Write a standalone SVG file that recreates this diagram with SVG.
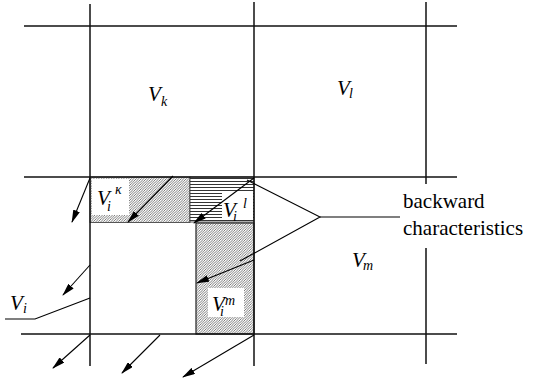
<svg xmlns="http://www.w3.org/2000/svg" width="535" height="383" viewBox="0 0 535 383">
<style>
.g{stroke:#111;stroke-width:1.5;fill:none}
.c{stroke:#000;stroke-width:1.1;fill:none}
.a{stroke:#000;stroke-width:1.1;fill:none;marker-end:url(#ah)}
.V{font-style:italic;font-size:21px;fill:#000}
.s{font-size:14px}
.t{font-size:21px;fill:#000}
.box{fill:#fff;stroke:none}
</style>
<defs>
<pattern id="dh" width="2.5" height="2.5" patternUnits="userSpaceOnUse">
<rect width="2.5" height="2.5" fill="#fff"/>
<path d="M-1,1 L1,-1 M0,2.5 L2.5,0 M1.5,3.5 L3.5,1.5" stroke="#444" stroke-width="0.7"/>
</pattern>
<pattern id="hh" width="3" height="3" patternUnits="userSpaceOnUse">
<rect width="3" height="3" fill="#fff"/>
<path d="M0,1.5 L3,1.5" stroke="#000" stroke-width="0.8"/>
</pattern>
<marker id="ah" markerWidth="13" markerHeight="7" refX="12" refY="3.5" orient="auto" markerUnits="userSpaceOnUse">
<path d="M0,0 L13,3.5 L0,7 z" fill="#000"/>
</marker>
</defs>
<g id="regions">
<rect id="Vik" x="90" y="177" width="100" height="45.5" fill="url(#dh)" stroke="#333" stroke-width="0.8"/>
<rect id="Vil" x="190" y="177" width="64" height="45" fill="url(#hh)" stroke="#333" stroke-width="0.8"/>
<rect id="Vim" x="196" y="223" width="58" height="111" fill="url(#dh)" stroke="#222" stroke-width="1.2"/>
<rect class="box" x="92" y="179" width="37" height="36"/>
<rect class="box" x="222" y="193" width="31" height="27"/>
<rect class="box" x="208" y="288" width="36" height="29"/>
</g>
<g id="grid">
<line class="g" x1="24" y1="26" x2="457" y2="26"/>
<line class="g" x1="24" y1="177" x2="457" y2="177"/>
<line class="g" x1="21" y1="334" x2="457" y2="334"/>
<line class="g" x1="90" y1="4" x2="90" y2="366"/>
<line class="g" x1="254" y1="2" x2="254" y2="366"/>
<line class="g" x1="426" y1="2" x2="426" y2="184"/>
<line class="g" x1="426" y1="248" x2="426" y2="364"/>
</g>
<g id="connectors">
<line class="a" x1="90" y1="178" x2="72" y2="222"/>
<line class="a" x1="173" y1="176" x2="128" y2="222"/>
<line class="a" x1="254" y1="178" x2="194" y2="223"/>
<line class="a" x1="254" y1="260" x2="197" y2="283"/>
<line class="a" x1="90" y1="265" x2="63" y2="295"/>
<line class="a" x1="90" y1="335" x2="53" y2="368"/>
<line class="a" x1="160" y1="335" x2="122" y2="373"/>
<line class="a" x1="254" y1="335" x2="183" y2="377"/>
<polyline class="c" points="247,180 320,217 240,261"/>
<line class="c" x1="320" y1="217" x2="400" y2="217"/>
<polyline class="c" points="5,319 35,319 90,298"/>
</g>
<g id="labels" font-family="Liberation Serif, Times New Roman, Times, DejaVu Serif, serif">
<text id="Vk" class="V" x="148" y="101">V<tspan class="s" x="161" y="106">k</tspan></text>
<text id="Vl" class="V" x="337" y="95">V<tspan class="s" x="349" y="98">l</tspan></text>
<text id="Vm" class="V" x="352" y="267">V<tspan class="s" x="363" y="270">m</tspan></text>
<text id="Vi" class="V" x="10" y="310">V<tspan class="s" x="23" y="313">i</tspan></text>
<text id="Vik-label" class="V" x="97" y="205">V<tspan class="s" x="107" y="211">i</tspan><tspan class="s" x="115" y="194">κ</tspan></text>
<text id="Vil-label" class="V" x="223" y="217">V<tspan class="s" x="233" y="221">i</tspan><tspan class="s" x="243" y="208">l</tspan></text>
<text id="Vim-label" class="V" x="212" y="311">V<tspan class="s" x="220" y="316">i</tspan><tspan class="s" x="225" y="305">m</tspan></text>
<text id="backward" class="t"><tspan x="403" y="208">backward</tspan><tspan x="403" y="235">characteristics</tspan></text>
</g>
</svg>
